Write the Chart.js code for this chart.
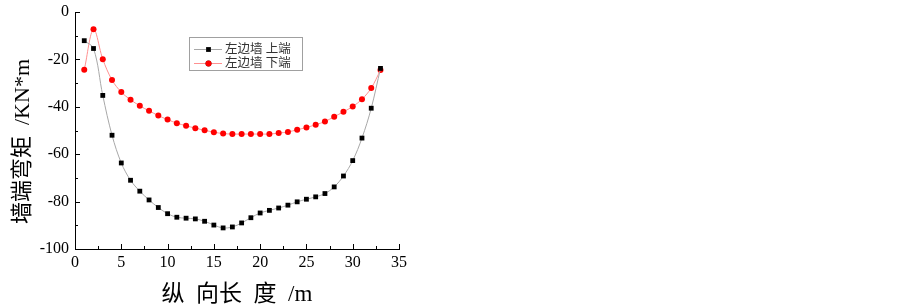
<!DOCTYPE html>
<html>
<head>
<meta charset="utf-8">
<script src="https://cdn.jsdelivr.net/npm/chart.js@4.4.0/dist/chart.umd.min.js"></script>
<style>
  html, body { margin: 0; padding: 0; background: #fff; }
  #wrap { width: 903px; height: 304px; position: relative; }
</style>
</head>
<body>
<div id="wrap"><canvas id="momentChart"></canvas></div>
<script>
// positions along the wall (m)
const positions = [1, 2, 3, 4, 5, 6, 7, 8, 9, 10, 11, 12, 13, 14, 15, 16, 17,
  18, 19, 20, 21, 22, 23, 24, 25, 26, 27, 28, 29, 30, 31, 32, 33];
// left wall, top end
const upperEnd = [-12.1, -15.4, -35.2, -52.0, -63.7, -71.0, -75.6, -79.3, -82.5, -85.1,
  -86.6, -87.0, -87.3, -88.3, -89.9, -91.1, -90.7, -89.0, -86.8, -84.8,
  -83.7, -82.7, -81.5, -80.1, -79.0, -78.0, -76.6, -73.8, -69.2, -62.7,
  -53.2, -40.6, -23.8];
// left wall, bottom end
const lowerEnd = [-24.4, -7.3, -19.9, -28.7, -33.8, -37.0, -39.6, -41.7, -43.7, -45.4,
  -46.9, -48.0, -49.0, -49.9, -50.7, -51.3, -51.5, -51.5, -51.5, -51.5,
  -51.5, -51.1, -50.6, -49.7, -48.7, -47.6, -46.2, -44.2, -42.1, -39.9,
  -36.8, -32.1, -24.5];
const seriesNames = ['左边墙 上端', '左边墙 下端'];
const xTicks = [0, 5, 10, 15, 20, 25, 30, 35];
const yTicks = [0, -20, -40, -60, -80, -100];
const xTitle = '纵  向长  度  /m';
const yTitle = '墙端弯矩  /KN*m    ';

const serif = "'Liberation Serif', 'Noto Sans CJK SC', serif";
const cjk = "'Liberation Serif', 'Noto Sans CJK SC', sans-serif";

// Origin-style ticks pointing into the plot, with one minor between majors
const inwardTicks = {
  id: 'inwardTicks',
  afterDatasetsDraw(chart) {
    const { ctx, chartArea } = chart;
    const xs = chart.scales.x, ys = chart.scales.y;
    ctx.save();
    ctx.strokeStyle = '#000';
    ctx.lineWidth = 1;
    ctx.beginPath();
    for (let i = 0; i < xTicks.length; i++) {
      const px = Math.round(xs.getPixelForValue(xTicks[i])) + 0.5;
      ctx.moveTo(px, chartArea.bottom);
      ctx.lineTo(px, chartArea.bottom - 5);
      if (i < xTicks.length - 1) {
        const mx = Math.round(xs.getPixelForValue((xTicks[i] + xTicks[i + 1]) / 2)) + 0.5;
        ctx.moveTo(mx, chartArea.bottom);
        ctx.lineTo(mx, chartArea.bottom - 3);
      }
    }
    for (let i = 0; i < yTicks.length; i++) {
      const py = Math.round(ys.getPixelForValue(yTicks[i])) + 0.5;
      ctx.moveTo(chartArea.left, py);
      ctx.lineTo(chartArea.left + 5, py);
      if (i < yTicks.length - 1) {
        const my = Math.round(ys.getPixelForValue((yTicks[i] + yTicks[i + 1]) / 2)) + 0.5;
        ctx.moveTo(chartArea.left, my);
        ctx.lineTo(chartArea.left + 3, my);
      }
    }
    ctx.stroke();
    ctx.restore();
  }
};

// legend box drawn inside the plot like the original
const boxLegend = {
  id: 'boxLegend',
  afterDraw(chart) {
    const { ctx } = chart;
    const left = 189, top = 37, w = 113, h = 33;
    ctx.save();
    ctx.fillStyle = '#fff';
    ctx.fillRect(left, top, w, h);
    ctx.strokeStyle = '#a0a0a0';
    ctx.lineWidth = 1;
    ctx.strokeRect(left + 0.5, top + 0.5, w, h);
    chart.data.datasets.forEach((ds, i) => {
      const cy = top + 12 + i * 14;
      ctx.strokeStyle = ds.borderColor;
      ctx.beginPath();
      ctx.moveTo(left + 5, cy + 0.5);
      ctx.lineTo(left + 33, cy + 0.5);
      ctx.stroke();
      Chart.helpers.drawPoint(ctx, {
        pointStyle: ds.pointStyle, radius: ds.pointRadius, borderWidth: 0
      }, left + 19.5, cy + 0.5);
      ctx.fillStyle = ds.pointBackgroundColor;
      ctx.fill();
      ctx.fillStyle = '#333';
      ctx.font = "12.5px " + cjk;
      ctx.textBaseline = 'middle';
      ctx.fillText(ds.label, left + 36, cy + 1);
    });
    ctx.restore();
  }
};

const ctx = document.getElementById('momentChart').getContext('2d');
const momentChart = new Chart(ctx, {
  type: 'line',
  data: {
    datasets: [
      {
        label: seriesNames[0],
        data: positions.map((p, i) => ({ x: p, y: upperEnd[i] })),
        borderColor: '#a8a8a8',
        borderWidth: 1,
        pointStyle: 'rect',
        pointRadius: 3.4,
        pointBackgroundColor: '#000',
        pointBorderWidth: 0,
        tension: 0.35
      },
      {
        label: seriesNames[1],
        data: positions.map((p, i) => ({ x: p, y: lowerEnd[i] })),
        borderColor: '#ff9090',
        borderWidth: 1,
        pointStyle: 'circle',
        pointRadius: 3,
        pointBackgroundColor: '#ff0000',
        pointBorderWidth: 0,
        tension: 0.35
      }
    ]
  },
  options: {
    responsive: true,
    maintainAspectRatio: false,
    animation: false,
    layout: { padding: { top: 12, right: 504, left: 0, bottom: 0 } },
    plugins: {
      legend: { display: false },
      tooltip: { enabled: false }
    },
    scales: {
      x: {
        type: 'linear',
        min: 0,
        max: 35,
        afterFit(scale) { scale.height = 55; },
        afterBuildTicks(scale) { scale.ticks = xTicks.map(v => ({ value: v })); },
        grid: { display: false, drawTicks: false },
        border: { display: true, color: '#000', width: 1 },
        ticks: { color: '#000', padding: 4, font: { family: serif, size: 16 } },
        title: {
          display: true,
          text: xTitle,
          color: '#000',
          padding: 0,
          font: { family: cjk, size: 23, lineHeight: 0.8 }
        }
      },
      y: {
        min: -100,
        max: 0,
        afterFit(scale) {
          scale.width = 75;
          scale.paddingTop = 0;
        },
        afterBuildTicks(scale) { scale.ticks = yTicks.map(v => ({ value: v })); },
        grid: { display: false, drawTicks: false },
        border: { display: true, color: '#000', width: 1 },
        ticks: { color: '#000', padding: 6, font: { family: serif, size: 16, lineHeight: 0.8 } },
        title: {
          display: true,
          text: yTitle,
          color: '#000',
          padding: { top: 10 },
          font: { family: cjk, size: 22, lineHeight: 1.2 }
        }
      }
    }
  },
  plugins: [inwardTicks, boxLegend]
});
</script>
</body>
</html>
